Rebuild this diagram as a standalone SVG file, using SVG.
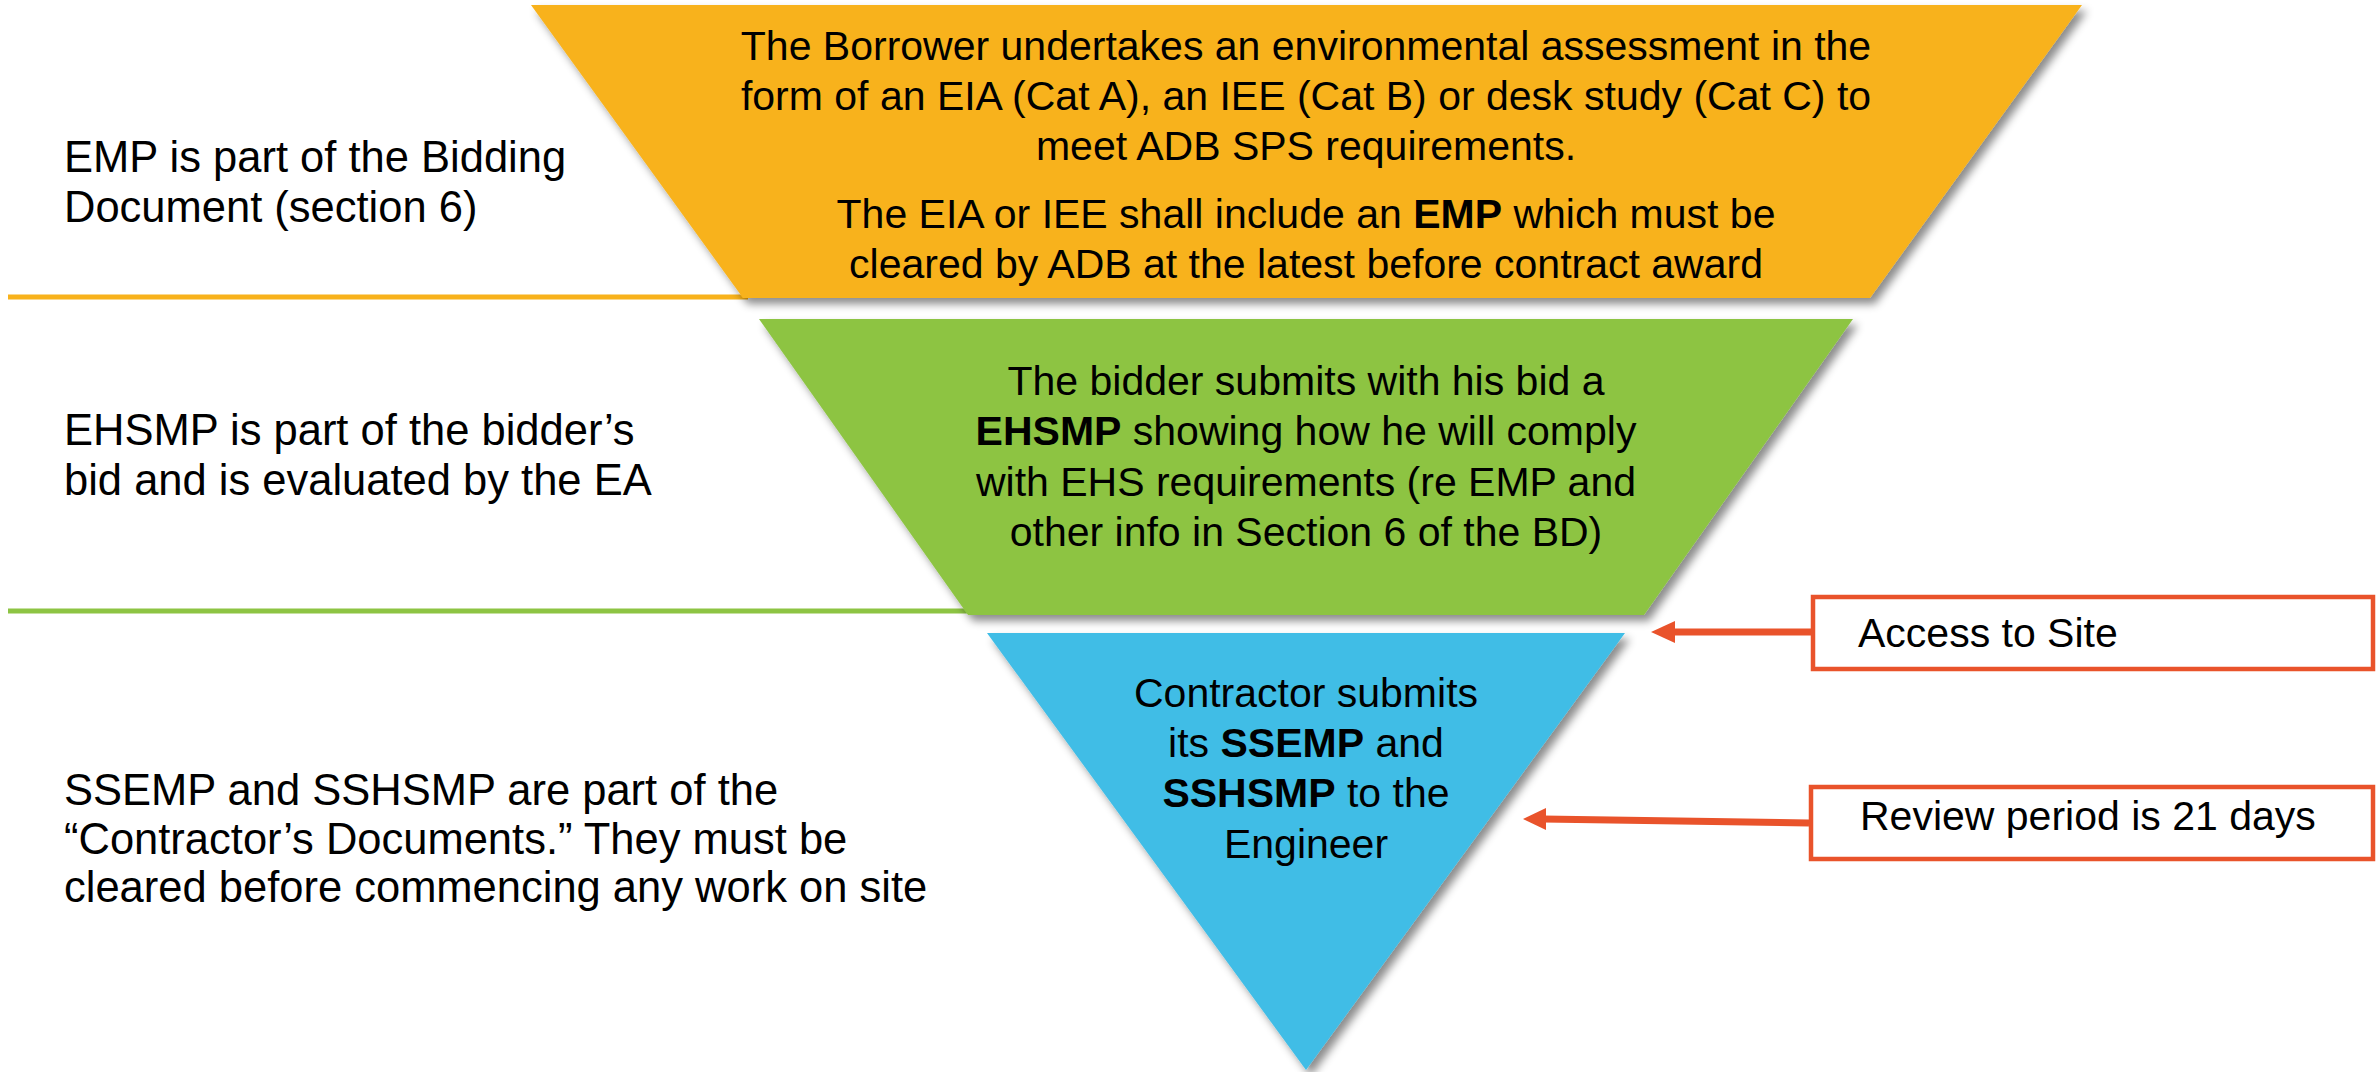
<svg xmlns="http://www.w3.org/2000/svg" width="2377" height="1072" viewBox="0 0 2377 1072">
<style>
  text { font-family: "Liberation Sans", Arial, sans-serif; font-size: 41px; fill: #000; }
  .c { text-anchor: middle; }
  .b { font-weight: bold; }
  .lbl { font-size: 43.5px; }
  .box { fill: #fff; stroke: #E9532B; stroke-width: 4.5; }
  .arr { stroke: #E9532B; stroke-width: 7; fill: none; }
  .ah { fill: #E9532B; }
</style>
<defs>
  <filter id="sh" x="-5%" y="-5%" width="115%" height="115%">
    <feDropShadow dx="5" dy="6" stdDeviation="4" flood-color="#000" flood-opacity="0.45"/>
  </filter>
</defs>
<rect width="2377" height="1072" fill="#fff"/>

<g id="separators">
  <rect x="8" y="294.5" width="740" height="5" fill="#F8B21B"/>
  <rect x="8" y="608.5" width="965" height="5" fill="#8DC443"/>
</g>

<g id="level-emp">
  <polygon points="531,5 2082,5 1870,298 743,298" fill="#F8B21B" filter="url(#sh)"/>
  <text class="c" x="1306" y="60">The Borrower undertakes an environmental assessment in the</text>
  <text class="c" x="1306" y="110">form of an EIA (Cat A), an IEE (Cat B) or desk study (Cat C) to</text>
  <text class="c" x="1306" y="160">meet ADB SPS requirements.</text>
  <text class="c" x="1306" y="228">The EIA or IEE shall include an <tspan class="b">EMP</tspan> which must be</text>
  <text class="c" x="1306" y="278">cleared by ADB at the latest before contract award</text>
</g>

<g id="level-ehsmp">
  <polygon points="759,319 1853,319 1644,615 968,615" fill="#8DC443" filter="url(#sh)"/>
  <text class="c" x="1306" y="395">The bidder submits with his bid a</text>
  <text class="c" x="1306" y="445"><tspan class="b">EHSMP</tspan> showing how he will comply</text>
  <text class="c" x="1306" y="496">with EHS requirements (re EMP and</text>
  <text class="c" x="1306" y="546">other info in Section 6 of the BD)</text>
</g>

<g id="level-ssemp">
  <polygon points="987,633 1625,633 1306,1070" fill="#41BDE6" filter="url(#sh)"/>
  <text class="c" x="1306" y="707">Contractor submits</text>
  <text class="c" x="1306" y="757">its <tspan class="b">SSEMP</tspan> and</text>
  <text class="c" x="1306" y="807"><tspan class="b">SSHSMP</tspan> to the</text>
  <text class="c" x="1306" y="858">Engineer</text>
</g>

<g id="label-emp">
  <text class="lbl" x="64" y="172">EMP is part of the Bidding</text>
  <text class="lbl" x="64" y="222">Document (section 6)</text>
</g>

<g id="label-ehsmp">
  <text class="lbl" x="64" y="445">EHSMP is part of the bidder’s</text>
  <text class="lbl" x="64" y="495">bid and is evaluated by the EA</text>
</g>

<g id="label-ssemp">
  <text class="lbl" x="64" y="805">SSEMP and SSHSMP are part of the</text>
  <text class="lbl" x="64" y="854">“Contractor’s Documents.” They must be</text>
  <text class="lbl" x="64" y="902">cleared before commencing any work on site</text>
</g>

<g id="box-access">
  <rect class="box" x="1813" y="597" width="560" height="72"/>
  <text x="1858" y="647">Access to Site</text>
</g>

<g id="box-review">
  <rect class="box" x="1811" y="787" width="562" height="72"/>
  <text x="1860" y="830">Review period is 21 days</text>
</g>

<g id="connectors">
  <line class="arr" x1="1811" y1="632" x2="1672" y2="632"/>
  <polygon class="ah" points="1651,632 1675,621 1675,643"/>
  <line class="arr" x1="1809" y1="823" x2="1543" y2="819"/>
  <polygon class="ah" points="1523,819 1546,808 1546,830"/>
</g>
</svg>
